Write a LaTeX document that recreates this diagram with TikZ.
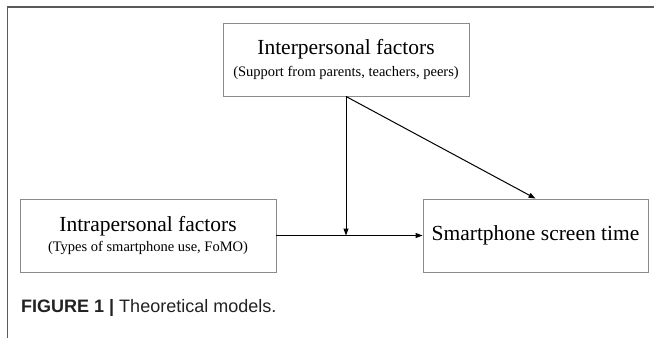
\documentclass[tikz,border=0pt]{standalone}
\usepackage{fontspec}
\setmainfont{Liberation Serif}
\newfontfamily\capfont{Liberation Sans}
\usetikzlibrary{arrows.meta}
\definecolor{boxgray}{HTML}{8A8A8A}
\definecolor{framegray}{HTML}{5A5A5A}
\definecolor{captext}{HTML}{222222}
\tikzset{
  factorbox/.style={draw=boxgray, line width=0.9pt, inner sep=0pt, align=center, minimum height=73pt},
  conn/.style={line width=1pt, -{Triangle[length=7pt,width=5pt]}},
  plainline/.style={line width=1pt}
}
\newcommand{\bigtxt}{\fontsize{21.5}{22}\selectfont}
\newcommand{\smalltxt}{\fontsize{14.5}{16}\selectfont}
\begin{document}
\begin{tikzpicture}[x=1pt,y=-1pt]
\useasboundingbox (0,0) rectangle (654,338);
\draw[framegray, line width=1.6pt] (654,7) -- (7.5,7) -- (7.5,338);
\node[factorbox, minimum width=246pt] (inter) at (346,59.5)
  {\bigtxt Interpersonal factors\\[6pt] \smalltxt (Support from parents, teachers, peers)};
\node[factorbox, minimum width=256pt] (intra) at (148,235.5)
  {\bigtxt Intrapersonal factors\\[5pt] \smalltxt (Types of smartphone use, FoMO)};
\node[factorbox, minimum width=225pt] (smart) at (535.5,235.5)
  {\bigtxt Smartphone screen time};
\coordinate (join) at (inter.south |- intra.east);
\draw[conn] (intra.east) -- (smart.west);
\draw[conn] (inter.south) -- (join);
\draw[conn] (inter.south) -- (smart.north);
\node[anchor=base west, inner sep=0pt, text=captext] (cap) at (21,312)
  {\capfont\fontsize{18}{20}\selectfont\textbf{FIGURE 1 |} Theoretical models.};
\end{tikzpicture}
\end{document}
